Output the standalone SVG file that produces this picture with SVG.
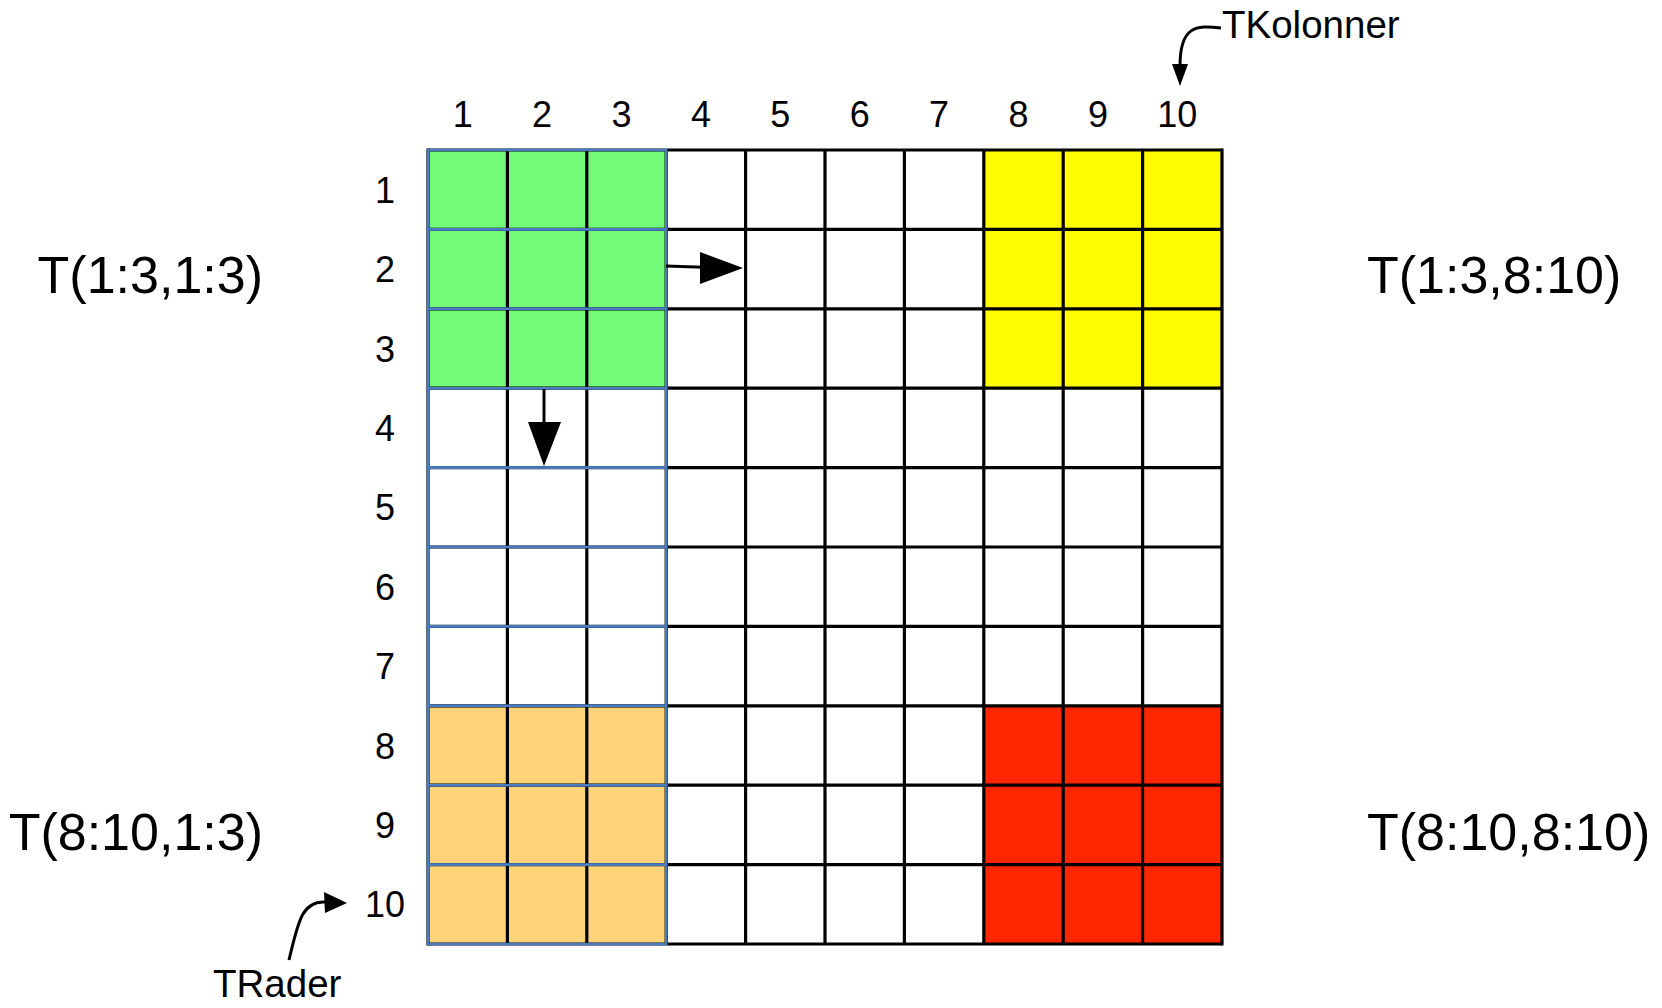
<svg xmlns="http://www.w3.org/2000/svg" width="1662" height="1008" viewBox="0 0 1662 1008">
<style>
.lbl{font-family:"Liberation Sans",Arial,sans-serif;fill:#000}
.num{font-size:36px;text-anchor:middle}
.big{font-size:52px}
.ann{font-size:38.5px}
.grid line{stroke:#000;stroke-width:3.2}
.blue{fill:none;stroke:#4a7cc0;stroke-width:2.4}
.conn{fill:none;stroke:#000;stroke-width:3}
</style>
<rect width="1662" height="1008" fill="#fff"/>
<g id="grid">
<rect x="428" y="150" width="794" height="794" fill="#fff"/>
<rect x="428" y="150" width="238.2" height="238.2" fill="#73fa79"/>
<rect x="983.8" y="150" width="238.2" height="238.2" fill="#fffb00"/>
<rect x="428" y="705.8" width="238.2" height="238.2" fill="#ffd479"/>
<rect x="983.8" y="705.8" width="238.2" height="238.2" fill="#ff2600"/>
<g class="grid">
<line x1="428" y1="148.4" x2="428" y2="945.6"/>
<line x1="507.4" y1="150" x2="507.4" y2="944"/>
<line x1="586.8" y1="150" x2="586.8" y2="944"/>
<line x1="666.2" y1="150" x2="666.2" y2="944"/>
<line x1="745.6" y1="150" x2="745.6" y2="944"/>
<line x1="825" y1="150" x2="825" y2="944"/>
<line x1="904.4" y1="150" x2="904.4" y2="944"/>
<line x1="983.8" y1="150" x2="983.8" y2="944"/>
<line x1="1063.2" y1="150" x2="1063.2" y2="944"/>
<line x1="1142.6" y1="150" x2="1142.6" y2="944"/>
<line x1="1222" y1="148.4" x2="1222" y2="945.6"/>
<line x1="428" y1="150" x2="1222" y2="150"/>
<line x1="428" y1="229.4" x2="1222" y2="229.4"/>
<line x1="428" y1="308.8" x2="1222" y2="308.8"/>
<line x1="428" y1="388.2" x2="1222" y2="388.2"/>
<line x1="428" y1="467.6" x2="1222" y2="467.6"/>
<line x1="428" y1="547" x2="1222" y2="547"/>
<line x1="428" y1="626.4" x2="1222" y2="626.4"/>
<line x1="428" y1="705.8" x2="1222" y2="705.8"/>
<line x1="428" y1="785.2" x2="1222" y2="785.2"/>
<line x1="428" y1="864.6" x2="1222" y2="864.6"/>
<line x1="428" y1="944" x2="1222" y2="944"/>
</g>
<rect class="blue" x="428" y="150" width="238.2" height="79.4"/>
<rect class="blue" x="428" y="229.4" width="238.2" height="79.4"/>
<rect class="blue" x="428" y="308.8" width="238.2" height="79.4"/>
<rect class="blue" x="428" y="388.2" width="238.2" height="79.4"/>
<rect class="blue" x="428" y="467.6" width="238.2" height="79.4"/>
<rect class="blue" x="428" y="547" width="238.2" height="79.4"/>
<rect class="blue" x="428" y="626.4" width="238.2" height="79.4"/>
<rect class="blue" x="428" y="705.8" width="238.2" height="79.4"/>
<rect class="blue" x="428" y="785.2" width="238.2" height="79.4"/>
<rect class="blue" x="428" y="864.6" width="238.2" height="79.4"/>
</g>
<g id="col-labels" class="lbl num">
<text x="462.7" y="127">1</text>
<text x="542.1" y="127">2</text>
<text x="621.5" y="127">3</text>
<text x="700.9" y="127">4</text>
<text x="780.3" y="127">5</text>
<text x="859.7" y="127">6</text>
<text x="939.1" y="127">7</text>
<text x="1018.5" y="127">8</text>
<text x="1097.9" y="127">9</text>
<text x="1177.3" y="127">10</text>
</g>
<g id="row-labels" class="lbl num">
<text x="385" y="202.7">1</text>
<text x="385" y="282.1">2</text>
<text x="385" y="361.5">3</text>
<text x="385" y="440.9">4</text>
<text x="385" y="520.3">5</text>
<text x="385" y="599.7">6</text>
<text x="385" y="679.1">7</text>
<text x="385" y="758.5">8</text>
<text x="385" y="837.9">9</text>
<text x="385" y="917.3">10</text>
</g>
<g id="block-labels" class="lbl big">
<text x="263" y="293" text-anchor="end">T(1:3,1:3)</text>
<text x="1367" y="293">T(1:3,8:10)</text>
<text x="263" y="850" text-anchor="end">T(8:10,1:3)</text>
<text x="1367" y="850">T(8:10,8:10)</text>
</g>
<g id="tkolonner"><text class="lbl ann" x="1222" y="38">TKolonner</text></g>
<g id="trader"><text class="lbl ann" x="213" y="997">TRader</text></g>
<g id="connectors">
<path class="conn" d="M666,266 L703,267.2"/>
<polygon points="700,252 743,268 700,284"/>
<path class="conn" d="M544,389 L544,425"/>
<polygon points="528,422 561,422 544,466"/>
<path class="conn" d="M289,960 C298,922 302,900 326,902"/>
<polygon points="324,892 347,903 325,913"/>
<path class="conn" d="M1221,28 C1196,25 1180,26 1180,66"/>
<polygon points="1172,64 1188,64 1180,86"/>
</g>
</svg>
